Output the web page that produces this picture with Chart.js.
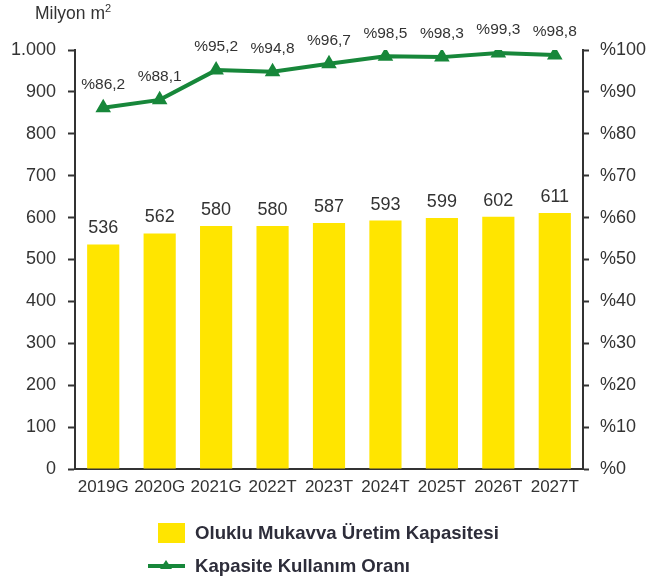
<!DOCTYPE html>
<html><head><meta charset="utf-8">
<script src="https://cdn.jsdelivr.net/npm/chart.js@4/dist/chart.umd.min.js"></script>
<style>
html,body{margin:0;padding:0;background:#fff;}
#wrap{position:relative;width:648px;height:577px;}
#title{position:absolute;left:35px;top:2px;font:17.5px "Liberation Sans",Arial,sans-serif;color:#333;}
#title sup{font-size:11px;}
.leg{position:absolute;font:bold 18.6px "Liberation Sans",Arial,sans-serif;color:#2d2d3a;white-space:nowrap;}
</style></head>
<body>
<div id="wrap">
<canvas id="c" width="648" height="577"></canvas>
<div id="title">Milyon m<sup>2</sup></div>
<div class="leg" style="left:158px;top:521px;"><span style="display:inline-block;width:27px;height:20px;background:#FFE500;vertical-align:middle;margin-right:10px;"></span><span style="vertical-align:middle;">Oluklu Mukavva Üretim Kapasitesi</span></div>
<div class="leg" style="left:148px;top:554px;"><canvas id="lg" width="37" height="20" style="vertical-align:middle;margin-right:10px;"></canvas><span style="vertical-align:middle;">Kapasite Kullanım Oranı</span></div>
</div>
<script>
const categories = ["2019G","2020G","2021G","2022T","2023T","2024T","2025T","2026T","2027T"];
const capacity = [536,562,580,580,587,593,599,602,611];
const utilization = [86.2,88.1,95.2,94.8,96.7,98.5,98.3,99.3,98.8];
const leftTicks = [0,100,200,300,400,500,600,700,800,900,1000];
const rightTicks = [0,10,20,30,40,50,60,70,80,90,100];

const YELLOW = "#FFE500", GREEN = "#17873A", TXT = "#333";
const FONT = '"Liberation Sans", Arial, sans-serif';

// legend line symbol
(function(){
  const g = document.getElementById('lg').getContext('2d');
  g.strokeStyle = GREEN; g.lineWidth = 4;
  g.beginPath(); g.moveTo(0,10); g.lineTo(37,10); g.stroke();
  g.fillStyle = GREEN; g.beginPath(); g.moveTo(18,4); g.lineTo(24,13); g.lineTo(12,13); g.closePath(); g.fill();
})();

const fmt = v => v.toLocaleString('de-DE');
const fmtPct = v => '%' + v.toFixed(1).replace('.', ',');

const labelPlugin = {
  id: 'labels',
  afterDatasetsDraw(chart) {
    const ctx = chart.ctx;
    ctx.save();
    ctx.fillStyle = TXT;
    ctx.textAlign = 'center';
    ctx.textBaseline = 'middle';
    const barMeta = chart.getDatasetMeta(1);
    ctx.font = '18px ' + FONT;
    barMeta.data.forEach((el, i) => {
      ctx.fillText(String(capacity[i]), el.x, el.y - 16);
    });
    const lineMeta = chart.getDatasetMeta(0);
    ctx.font = '15.5px ' + FONT;
    lineMeta.data.forEach((el, i) => {
      ctx.fillText(fmtPct(utilization[i]), el.x, el.y - 23);
    });
    ctx.restore();
  }
};

new Chart(document.getElementById('c'), {
  data: {
    labels: categories,
    datasets: [
      { type: 'line', label: 'Kapasite Kullanım Oranı', data: utilization, yAxisID: 'y2',
        borderColor: GREEN, backgroundColor: GREEN, borderWidth: 4,
        pointStyle: 'triangle', pointRadius: 5, pointBackgroundColor: GREEN, pointBorderColor: GREEN,
        tension: 0, order: 0 },
      { type: 'bar', label: 'Oluklu Mukavva Üretim Kapasitesi', data: capacity, yAxisID: 'y',
        backgroundColor: YELLOW, categoryPercentage: 1, barPercentage: 0.57, order: 1 }
    ]
  },
  options: {
    responsive: false, animation: false,
    layout: { padding: { left: 0, right: 0, top: 50, bottom: 78 } },
    plugins: { legend: { display: false }, tooltip: { enabled: false } },
    scales: {
      x: {
        grid: { display: false, drawTicks: false },
        border: { display: true, color: '#333', width: 2 },
        ticks: { color: TXT, font: { size: 17, family: FONT }, padding: 8, maxRotation: 0 },
        afterFit(s) { s.height = 30; }
      },
      y: {
        position: 'left', min: 0, max: 1000,
        afterBuildTicks(s) { s.ticks = leftTicks.map(v => ({ value: v })); },
        grid: { display: true, drawOnChartArea: false, drawTicks: true, tickLength: 7, color: '#333', tickWidth: 2 },
        border: { display: true, color: '#333', width: 2 },
        ticks: { color: TXT, font: { size: 18, family: FONT }, padding: 12, callback: v => fmt(v) },
        afterFit(s) { s.width = 75; }
      },
      y2: {
        position: 'right', min: 0, max: 100,
        afterBuildTicks(s) { s.ticks = rightTicks.map(v => ({ value: v })); },
        grid: { display: true, drawOnChartArea: false, drawTicks: true, tickLength: 6, color: '#333', tickWidth: 2 },
        border: { display: true, color: '#333', width: 2 },
        ticks: { color: TXT, font: { size: 18, family: FONT }, padding: 11, callback: v => '%' + v },
        afterFit(s) { s.width = 65; }
      }
    }
  },
  plugins: [labelPlugin]
});
</script>
</body></html>
